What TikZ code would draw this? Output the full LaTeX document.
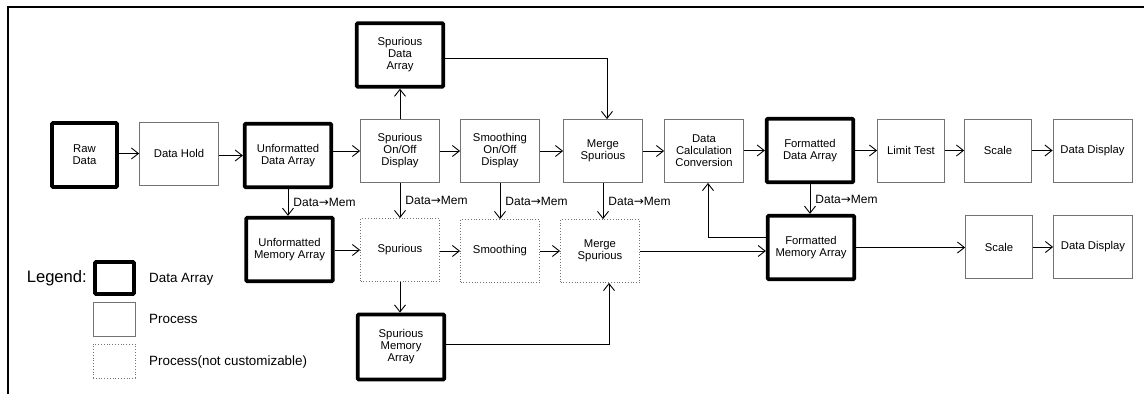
\documentclass[tikz,border=0pt]{standalone}
\usepackage{fontspec}
\setmainfont{Liberation Sans}
\newfontfamily\arrowfont{DejaVu Sans}
\usetikzlibrary{arrows.meta}

\begin{document}
\begin{tikzpicture}[x=1pt,y=-1pt,
    every node/.style={font=\fontsize{11.3}{12}\selectfont, align=center, inner sep=1pt},
    darray/.style={draw, line width=3.8pt, rounded corners=1pt,
                   minimum width=86.5pt, minimum height=63.5pt},
    proc/.style={draw=black!55, line width=0.8pt, minimum width=79pt, minimum height=63pt},
    fixproc/.style={proc, dotted},
    link/.style={line width=0.9pt, -{Straight Barb[length=7pt,width=11pt]}},
    memlabel/.style={right, xshift=4pt, font=\fontsize{12}{12}\selectfont}]
        \useasboundingbox (0,0) rectangle (1144,394);
        \draw[line width=2pt] (8,394) -- (8,7) -- (1144,7);

        % top row
        \node[darray, minimum width=65pt, minimum height=64pt] (raw) at (84.5,155) {Raw\\Data};
        \node[proc] (hold) at (179,153.5) {Data Hold};
        \node[darray] (uda) at (288,155.5) {Unformatted\\Data Array};
        \node[darray] (sda) at (400,55) {Spurious\\Data\\Array};
        \node[proc] (spoo) at (400,151) {Spurious\\On/Off\\Display};
        \node[proc] (smoo) at (500,151) {Smoothing\\On/Off\\Display};
        \node[proc] (merge) at (603,151) {Merge\\Spurious};
        \node[proc] (calc) at (704,151) {Data\\Calculation\\Conversion};
        \node[darray] (fda) at (810,150.5) {Formatted\\Data Array};
        \node[proc, minimum width=67pt] (limit) at (911,150.5) {Limit Test};
        \node[proc, minimum width=67pt] (scale) at (998,150.5) {Scale};
        \node[proc] (disp) at (1092.5,150.5) {Data Display};

        % memory row
        \node[darray] (uma) at (289.5,249.5) {Unformatted\\Memory Array};
        \node[fixproc] (spur) at (400,250) {Spurious};
        \node[fixproc] (smth) at (500,251) {Smoothing};
        \node[fixproc] (mrgm) at (600,251) {Merge\\Spurious};
        \node[darray, minimum height=65pt] (sma) at (401,347) {Spurious\\Memory\\Array};
        \node[darray] (fma) at (811,247.5) {Formatted\\Memory Array};
        \node[proc, minimum width=67pt] (scalem) at (999,247) {Scale};
        \node[proc] (dispm) at (1093,247) {Data Display};

        % legend
        \node[anchor=east, font=\fontsize{16.6}{18}\selectfont] (legend) at (88,278) {Legend:};
        \node[darray, minimum width=39pt, minimum height=32pt] (lgarray) at (114.5,278) {};
        \node[proc, minimum width=42pt, minimum height=34pt] (lgproc) at (114,319) {};
        \node[fixproc, minimum width=42pt, minimum height=34pt] (lgfix) at (114,361) {};
        \node[anchor=west, font=\fontsize{13.4}{14}\selectfont] (lgarraytxt) at (148,279) {Data Array};
        \node[anchor=west, font=\fontsize{13.4}{14}\selectfont] (lgproctxt) at (148,319) {Process};
        \node[anchor=west, font=\fontsize{13.4}{14}\selectfont] (lgfixtxt) at (148,362) {Process(not customizable)};

        \foreach \a/\b in {raw/hold, hold/uda, uda/spoo, spoo/smoo, smoo/merge, merge/calc,
                           calc/fda, fda/limit, limit/scale, scale/disp,
                           uma/spur, spur/smth, smth/mrgm, scalem/dispm}{
          \draw[link] (\b.west -| \a.east) -- (\b.west);
        }
        \foreach \a/\b in {uda/uma, spoo/spur, smoo/smth, merge/mrgm, fda/fma}{
          \draw[link] (\a.south) -- (\a.south |- \b.north)
            node[memlabel, midway] (mem\a) {Data{\arrowfont →}Mem};
        }
        \draw[link] (spoo.north) -- (spoo.north |- sda.south);
        \draw[link] ([yshift=-3pt]sda.east) -| ([xshift=4pt]merge.north);
        \draw[link] (spur.south) -- (spur.south |- sma.north);
        \draw[link] ([yshift=3pt]sma.east) -| ([xshift=9pt]mrgm.south);
        \draw[link] (mrgm.east) -- (mrgm.east -| fma.west);
        \draw[link] ([yshift=10pt]fma.west) -| ([xshift=4pt]calc.south);
        \draw[link] (fma.east) -- (fma.east -| scalem.west);
      \end{tikzpicture}
\end{document}
